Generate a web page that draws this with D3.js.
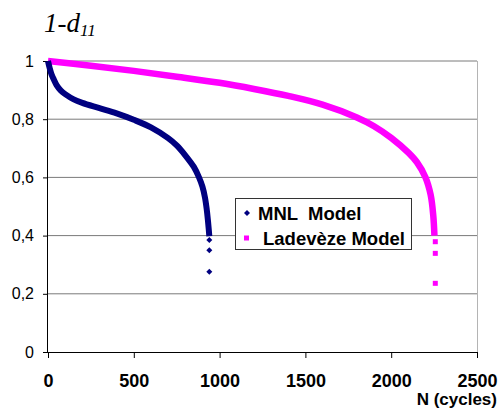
<!DOCTYPE html>
<html>
<head>
<meta charset="utf-8">
<script src="https://cdn.jsdelivr.net/npm/d3@7"></script>
<style>
  body { margin: 0; background: #fff; }
  svg { display: block; }
</style>
</head>
<body>
<div id="chart"></div>
<script>
// Damage curve 1-d11 vs number of cycles, two models

const xTicks = [0, 500, 1000, 1500, 2000, 2500];
const yTicks = [0, 0.2, 0.4, 0.6, 0.8, 1];

// MNL model (dense points)
const mnlN =   [0, 10, 20, 35, 50, 75, 100, 150, 200, 300, 400, 500, 600, 700, 750, 800, 850, 880, 900, 915, 925, 932, 937, 940];
const mnlVal = [1, 0.975, 0.955, 0.935, 0.917, 0.898, 0.886, 0.868, 0.856, 0.838, 0.82, 0.798, 0.772, 0.735, 0.71, 0.676, 0.636, 0.6, 0.568, 0.53, 0.49, 0.452, 0.42, 0.398];
// last isolated points
const mnlTailN =   [940, 940, 940];
const mnlTailVal = [0.385, 0.35, 0.276];

// Ladeveze model
const ladN =   [0, 250, 500, 750, 1000, 1200, 1400, 1600, 1800, 1900, 2000, 2100, 2150, 2200, 2230, 2245, 2252];
const ladVal = [1, 0.984, 0.966, 0.946, 0.925, 0.904, 0.88, 0.85, 0.806, 0.776, 0.736, 0.685, 0.652, 0.6, 0.54, 0.47, 0.4];
const ladTailN =   [2257, 2257, 2257];
const ladTailVal = [0.379, 0.339, 0.236];

const W = 499, H = 410;
const mLeft = 48, mRight = 477, mTop = 61, mBottom = 352;

const svg = d3.select("#chart").append("svg")
  .attr("width", W)
  .attr("height", H);

const x = d3.scaleLinear().domain([0, 2500]).range([mLeft, mRight]);
const y = d3.scaleLinear().domain([0, 1]).range([mBottom, mTop]);

// gridlines
svg.append("g")
  .selectAll("line")
  .data(yTicks.filter(d => d > 0))
  .enter().append("line")
  .attr("x1", mLeft).attr("x2", mRight)
  .attr("y1", d => y(d)).attr("y2", d => y(d))
  .attr("stroke", "#7a7a7a")
  .attr("stroke-width", 1);

// right border
svg.append("line")
  .attr("x1", mRight + 0.5).attr("x2", mRight + 0.5)
  .attr("y1", mTop).attr("y2", mBottom)
  .attr("stroke", "#b4b4b4");

// Y axis
const yAxis = svg.append("g")
  .attr("transform", `translate(${mLeft},0)`)
  .call(d3.axisLeft(y).tickValues(yTicks).tickSize(5).tickPadding(9)
    .tickFormat(d => String(d).replace(".", ",")));
yAxis.selectAll("text")
  .style("font-family", "'Liberation Sans', Arial, sans-serif")
  .style("font-size", "16px")
  .attr("fill", "#000");

// X axis
const xAxis = svg.append("g")
  .attr("transform", `translate(0,${mBottom})`)
  .call(d3.axisBottom(x).tickValues(xTicks).tickSize(6).tickPadding(16)
    .tickFormat(d3.format("d")));
xAxis.selectAll("text")
  .style("font-family", "'Liberation Sans', Arial, sans-serif")
  .style("font-size", "18px")
  .style("font-weight", "bold")
  .attr("fill", "#000");
svg.selectAll(".domain").attr("stroke", "#000");
xAxis.select(".domain").attr("d", `M${mLeft},0.5H${mRight}`);
yAxis.select(".domain").attr("d", `M-0.5,${mTop}V${mBottom}`);

const pts = (ns, vs) => ns.map((n, i) => [n, vs[i]]);

const line = d3.line()
  .x(d => x(d[0]))
  .y(d => y(d[1]))
  .curve(d3.curveCatmullRom);

// Ladeveze curve
svg.append("path")
  .datum(pts(ladN, ladVal))
  .attr("d", line)
  .attr("fill", "none")
  .attr("stroke", "#ff00ff")
  .attr("stroke-width", 6.5)
  .attr("stroke-linejoin", "round");

svg.selectAll(".ladTail")
  .data(pts(ladTailN, ladTailVal))
  .enter().append("rect")
  .attr("class", "ladTail")
  .attr("x", d => x(d[0]) - 2.5)
  .attr("y", d => y(d[1]) - 2.5)
  .attr("width", 5).attr("height", 5)
  .attr("fill", "#ff00ff");

// MNL curve
svg.append("path")
  .datum(pts(mnlN, mnlVal))
  .attr("d", line)
  .attr("fill", "none")
  .attr("stroke", "#000080")
  .attr("stroke-width", 6)
  .attr("stroke-linejoin", "round");

// small square diamond, Excel style
const diamond = "M0,-3L3,0L0,3L-3,0Z";
svg.selectAll(".mnlTail")
  .data(pts(mnlTailN, mnlTailVal))
  .enter().append("path")
  .attr("class", "mnlTail")
  .attr("transform", d => `translate(${x(d[0])},${y(d[1])})`)
  .attr("d", diamond)
  .attr("fill", "#000080");

// Title 1-d11
const title = svg.append("text")
  .attr("x", 44)
  .attr("y", 32)
  .style("font-family", "'Liberation Serif', 'Times New Roman', serif")
  .style("font-style", "italic")
  .style("font-size", "27px")
  .attr("fill", "#000");
title.append("tspan").text("1-d");
title.append("tspan").attr("dy", 4).style("font-size", "17px").text("11");

// x label
svg.append("text")
  .attr("x", 497)
  .attr("y", 405)
  .attr("text-anchor", "end")
  .style("font-family", "'Liberation Sans', Arial, sans-serif")
  .style("font-size", "17px")
  .style("font-weight", "bold")
  .text("N (cycles)");

// Legend
const legend = svg.append("g").attr("transform", "translate(235,198)");
legend.append("rect")
  .attr("x", 0.5).attr("y", 0.5)
  .attr("width", 176).attr("height", 51)
  .attr("fill", "#fff")
  .attr("stroke", "#333");

const legendItems = [
  { label: "MNL  Model", color: "#000080", shape: "diamond", tx: 23 },
  { label: "Ladevèze Model", color: "#ff00ff", shape: "square", tx: 28 }
];
legendItems.forEach((it, i) => {
  const g = legend.append("g").attr("transform", `translate(0,${15 + i * 25})`);
  if (it.shape === "diamond") {
    g.append("path")
      .attr("transform", "translate(12,0)")
      .attr("d", diamond)
      .attr("fill", it.color);
  } else {
    g.append("rect")
      .attr("x", 9).attr("y", -2.5)
      .attr("width", 5).attr("height", 5)
      .attr("fill", it.color);
  }
  g.append("text")
    .attr("x", it.tx)
    .attr("y", 6.5)
    .style("font-family", "'Liberation Sans', Arial, sans-serif")
    .style("font-size", "18.5px")
    .style("font-weight", "bold")
    .style("white-space", "pre")
    .attr("xml:space", "preserve")
    .text(it.label);
});
</script>
</body>
</html>
